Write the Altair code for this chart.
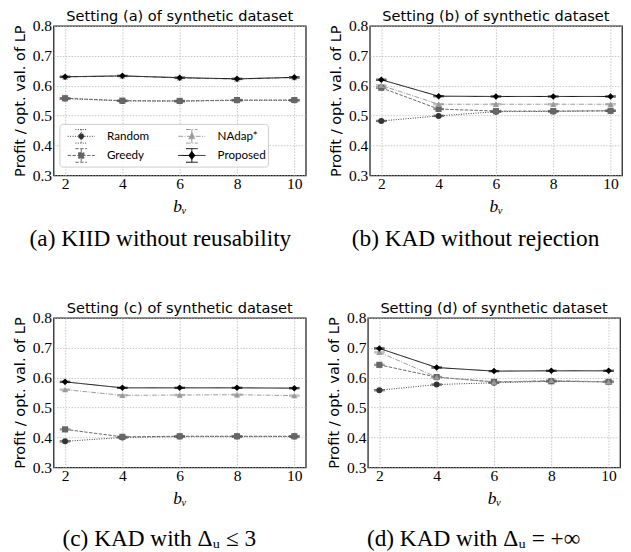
import altair as alt
import pandas as pd

BV = [2, 4, 6, 8, 10]
METHODS = ["Random", "Greedy", "NAdap*", "Proposed"]

# setting (a)
random_a = [0.557, 0.549, 0.548, 0.551, 0.551]
greedy_a = [0.558, 0.550, 0.549, 0.552, 0.552]
nadap_a = [0.629, 0.632, 0.626, 0.622, 0.627]
prop_a = [0.630, 0.633, 0.627, 0.623, 0.628]
err_a = [0.002, 0.002, 0.002, 0.002, 0.002]
# setting (b)
random_b = [0.482, 0.499, 0.513, 0.514, 0.516]
greedy_b = [0.593, 0.522, 0.515, 0.515, 0.516]
nadap_b = [0.601, 0.538, 0.538, 0.538, 0.538]
prop_b = [0.620, 0.565, 0.564, 0.564, 0.564]
err_b = [0.002, 0.002, 0.002, 0.002, 0.002]
# setting (c)
random_c = [0.387, 0.400, 0.403, 0.403, 0.403]
greedy_c = [0.427, 0.402, 0.404, 0.404, 0.404]
nadap_c = [0.560, 0.541, 0.542, 0.543, 0.540]
prop_c = [0.586, 0.566, 0.566, 0.566, 0.565]
err_c = [0.002, 0.002, 0.002, 0.002, 0.002]
# setting (d)
random_d = [0.558, 0.577, 0.583, 0.588, 0.586]
greedy_d = [0.643, 0.602, 0.586, 0.588, 0.586]
nadap_d = [0.685, 0.602, 0.585, 0.591, 0.586]
prop_d = [0.698, 0.634, 0.622, 0.623, 0.623]
err_d = [0.002, 0.002, 0.002, 0.002, 0.002]

TITLES = ["Setting (a) of synthetic dataset", "Setting (b) of synthetic dataset",
          "Setting (c) of synthetic dataset", "Setting (d) of synthetic dataset"]
CAPTIONS = ["(a) KIID without reusability", "(b) KAD without rejection",
            "(c) KAD with \u0394\u1d64 \u2264 3", "(d) KAD with \u0394\u1d64 = +\u221e"]
Y_TICKS = [0.3, 0.4, 0.5, 0.6, 0.7, 0.8]

STYLE = {
    "Random": dict(color="#333333", dash=[1, 1.5], shape="circle", size=38),
    "Greedy": dict(color="#666666", dash=[3.5, 1.5], shape="square", size=40),
    "NAdap*": dict(color="#9a9a9a", dash=[5, 1.5, 1, 1.5], shape="triangle-up", size=40),
    "Proposed": dict(color="#000000", dash=[1, 0], shape="diamond", size=45),
}
LINE = "M-1.4,0H1.4M0,-0.7V0.7M-0.6,-0.7H0.6M-0.6,0.7H0.6"
LEG_PATH = {
    "Random": LINE + ("M0.3,0L0.21,0.21L0,0.3L-0.21,0.21L-0.3,0"
                      "L-0.21,-0.21L0,-0.3L0.21,-0.21Z"),
    "Greedy": LINE + "M-0.28,-0.28H0.28V0.28H-0.28Z",
    "NAdap*": LINE + "M0,-0.36L0.33,0.25H-0.33Z",
    "Proposed": LINE + "M0,-0.4L0.32,0L0,0.4L-0.32,0Z",
}

color_scale = alt.Scale(domain=METHODS, range=[STYLE[m]["color"] for m in METHODS])
dash_scale = alt.Scale(domain=METHODS, range=[STYLE[m]["dash"] for m in METHODS])
shape_scale = alt.Scale(domain=METHODS, range=[LEG_PATH[m] for m in METHODS])

SANS = "DejaVu Sans"


def frame(series, err):
    rows = []
    for m, vals in zip(METHODS, series):
        for b, v, e in zip(BV, vals, err):
            rows.append({"bv": b, "val": v, "lo": v - e, "hi": v + e, "method": m})
    return pd.DataFrame(rows)


def panel(df, title, caption, with_legend, cap_offset):
    if with_legend:
        leg = alt.Legend(title=None, orient="none", legendX=6, legendY=101, columns=2,
                         symbolSize=400, symbolOffset=10, labelOffset=16, columnPadding=23,
                         rowPadding=0, padding=2, labelFont="Lato", labelFontSize=12,
                         labelColor="black", symbolStrokeWidth=1, symbolOpacity=1,
                         strokeColor="#cccccc", cornerRadius=3,
                         fillColor="rgba(255,255,255,0.85)")
    else:
        leg = None
    x = alt.X("bv:Q", scale=alt.Scale(domain=[1.6, 10.4], nice=False, zero=False),
              axis=alt.Axis(values=BV, title="b\u1d65", titleFont="Liberation Serif",
                            titleFontStyle="italic", titleFontSize=18, titlePadding=6,
                            labelPadding=1, labelOverlap=False, labelFlush=False))
    yscale = alt.Scale(domain=[0.3, 0.8], nice=False, zero=False)
    yaxis = alt.Axis(values=Y_TICKS, format=".1f", title="Profit / opt. val. of LP",
                     titlePadding=5, labelPadding=2, labelOverlap=False, labelFlush=False)
    y = alt.Y("val:Q", scale=yscale, axis=yaxis)
    base = alt.Chart(df)
    col = alt.Color("method:N", scale=color_scale, legend=leg)
    dsh = alt.StrokeDash("method:N", scale=dash_scale, legend=leg)
    layers = [
        base.mark_line(strokeWidth=1).encode(x=x, y=y, color=col, strokeDash=dsh),
        base.mark_rule(strokeWidth=1).encode(x="bv:Q", y=alt.Y("lo:Q", scale=yscale, axis=yaxis),
                                             y2="hi:Q", color=col),
        base.mark_tick(orient="horizontal", size=11, thickness=1.2).encode(
            x="bv:Q", y=alt.Y("lo:Q", scale=yscale, axis=yaxis), color=col),
        base.mark_tick(orient="horizontal", size=11, thickness=1.2).encode(
            x="bv:Q", y=alt.Y("hi:Q", scale=yscale, axis=yaxis), color=col),
    ]
    for m in METHODS:
        s = STYLE[m]
        layers.append(base.transform_filter(alt.datum.method == m).mark_point(
            shape=s["shape"], filled=True, size=s["size"], color=s["color"], opacity=1
        ).encode(x="bv:Q", y=alt.Y("val:Q", scale=yscale, axis=yaxis)))
    if with_legend:
        layers.append(base.mark_point(filled=True, opacity=0, size=400).encode(
            x="bv:Q", y=alt.Y("val:Q", scale=yscale, axis=yaxis), color=col, strokeDash=dsh,
            shape=alt.Shape("method:N", scale=shape_scale, legend=leg)))
    plot = alt.layer(*layers).properties(
        width=260, height=154,
        title=alt.Title(title, anchor="middle", frame="group", font=SANS, fontSize=15,
                        fontWeight="normal", offset=-6, color="black"))
    return alt.vconcat(plot, title=alt.Title(caption, orient="bottom", anchor="middle",
                                             frame="bounds", font="Liberation Serif",
                                             fontSize=24, fontWeight="normal",
                                             offset=cap_offset, color="black"))


pa = panel(frame([random_a, greedy_a, nadap_a, prop_a], err_a), TITLES[0], CAPTIONS[0], True, 12)
pb = panel(frame([random_b, greedy_b, nadap_b, prop_b], err_b), TITLES[1], CAPTIONS[1], False, 12)
pc = panel(frame([random_c, greedy_c, nadap_c, prop_c], err_c), TITLES[2], CAPTIONS[2], False, 20)
pd_ = panel(frame([random_d, greedy_d, nadap_d, prop_d], err_d), TITLES[3], CAPTIONS[3], False, 20)

chart = alt.vconcat(
    alt.hconcat(pa, pb, spacing=20),
    alt.hconcat(pc, pd_, spacing=20),
    spacing=51,
).properties(padding={"left": 4, "top": -8, "right": 0, "bottom": 0}).configure_view(
    stroke="#222222", strokeWidth=1.3
).configure_axis(
    grid=True, gridColor="#b5b5b5", gridDash=[1.5, 1.5], gridWidth=0.8,
    domain=False, ticks=False, labelFont="Liberation Serif", labelFontSize=16,
    labelColor="black", titleFont=SANS, titleFontSize=15, titleFontWeight="normal",
    titleColor="black"
)

chart.save("out.html", embed_options={"renderer": "svg", "actions": False})
